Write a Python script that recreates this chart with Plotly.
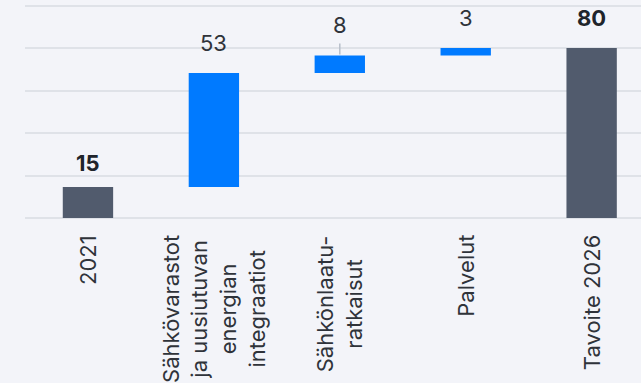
import plotly.graph_objects as go

# ---- data ----
categories = ["2021", "Sähkövarastot ja uusiutuvan energian integraatiot",
              "Sähkönlaatu-ratkaisut", "Palvelut", "Tavoite 2026"]
tick_labels = ["2021", "Sähkövarastot<br>ja uusiutuvan<br>energian<br>integraatiot",
               "Sähkönlaatu-<br>ratkaisut", "Palvelut", "Tavoite 2026"]
measures = ["absolute", "relative", "relative", "relative", "total"]
values = [14.6, 53.6, 8.3, 3.5, 0]
value_labels = ["15", "53", "8", "3", "80"]
label_bold = [True, False, False, False, True]

# ---- style ----
BG = "#f3f4f9"
GRID = "#dfe2e8"
BLUE = "#007aff"
DARK = "#515b6d"
TXT = "#2f333a"
TXT_BOLD = "#20242b"
FONT = "Inter, Roboto, sans-serif"
FS = 22
label_offsets = [24, 30, 30.5, 30, 30]

fig = go.Figure()
fig.add_trace(go.Waterfall(
    x=categories,
    y=values,
    measure=measures,
    width=0.4,
    increasing=dict(marker=dict(color=BLUE, line=dict(width=0))),
    decreasing=dict(marker=dict(color=BLUE, line=dict(width=0))),
    totals=dict(marker=dict(color=DARK, line=dict(width=0))),
    connector=dict(visible=False),
    hoverinfo="skip",
    textposition="none",
))

# cumulative tops for label placement
tops = []
run = 0
for m, v in zip(measures, values):
    if m == "absolute":
        run = v
    elif m == "relative":
        run += v
    tops.append(run)

annotations = []
for i, (top, lab, bold, off) in enumerate(zip(tops, value_labels, label_bold, label_offsets)):
    txt = f"<b>{lab}</b>" if bold else lab
    if i == 2:
        annotations.append(dict(
            x=i, y=top, xref="x", yref="y", text=txt,
            showarrow=True, arrowhead=0, arrowwidth=1.5, arrowcolor="#b7bfca",
            ax=0, ay=-off, standoff=1, startstandoff=4,
            font=dict(family=FONT, size=FS, color=TXT),
        ))
    else:
        annotations.append(dict(
            x=i, y=top, xref="x", yref="y", text=txt, showarrow=False,
            yanchor="middle", yshift=off,
            font=dict(family=FONT, size=FS, color=TXT_BOLD if bold else TXT),
        ))

for i, tl in enumerate(tick_labels):
    annotations.append(dict(
        x=i, y=0, xref="x", yref="paper", text=tl, showarrow=False,
        textangle=-90, align="center", xanchor="center", yanchor="top",
        yshift=-15,
        font=dict(family=FONT, size=FS, color=TXT),
    ))

fig.update_layout(
    width=641, height=383,
    margin=dict(l=25, r=0, t=0, b=165),
    paper_bgcolor=BG, plot_bgcolor=BG,
    showlegend=False,
    annotations=annotations,
    xaxis=dict(type="category", range=[-0.5, 4.392], showticklabels=False,
               showgrid=False, zeroline=False, showline=False, ticks=""),
    yaxis=dict(range=[0, 102.6], dtick=20, tick0=0, showticklabels=False,
               showgrid=True, gridcolor=GRID, gridwidth=1.5,
               zeroline=True, zerolinecolor=GRID, zerolinewidth=1.5,
               showline=False, ticks=""),
)

fig.write_html("out.html")
